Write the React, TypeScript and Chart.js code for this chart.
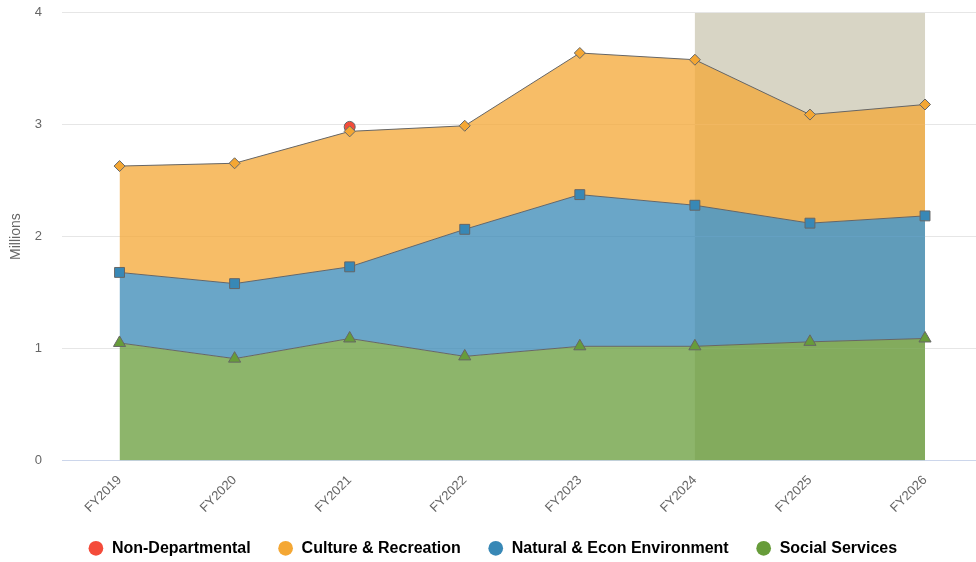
import React, { useEffect, useRef } from "react";
import { Chart, registerables } from "chart.js";

Chart.register(...registerables);

const categories = ["FY2019", "FY2020", "FY2021", "FY2022", "FY2023", "FY2024", "FY2025", "FY2026"];
const socialServices = [1.05, 0.91, 1.09, 0.93, 1.02, 1.02, 1.06, 1.09];
const naturalEcon = [0.63, 0.67, 0.64, 1.135, 1.355, 1.26, 1.06, 1.095];
const cultureRecreation = [0.95, 1.075, 1.21, 0.925, 1.265, 1.3, 0.97, 0.995];
const nonDepartmental: (number | null)[] = [null, null, 0.04, null, null, null, null, null];
const yTicks = [0, 1, 2, 3, 4];
const bandStart = "FY2024";
const bandEnd = "FY2026";

const FONT = '"Liberation Sans", Arial, Helvetica, sans-serif';

const toPoints = (arr: (number | null)[]) => arr.map((v, i) => ({ x: i, y: v }));

const bandPlugin = {
  id: "plotBand",
  beforeDraw(chart: any) {
    const { ctx, chartArea, scales } = chart;
    const xs = scales.x;
    const x0 = xs.getPixelForValue(categories.indexOf(bandStart));
    const x1 = xs.getPixelForValue(categories.indexOf(bandEnd));
    ctx.save();
    ctx.fillStyle = "#d8d5c5";
    ctx.fillRect(x0, chartArea.top, x1 - x0, chartArea.bottom - chartArea.top);
    ctx.restore();
    if (chart.legend) {
      chart.legend.left = 9;
    }
  },
};

export default function App() {
  const ref = useRef<HTMLCanvasElement | null>(null);

  useEffect(() => {
    document.body.style.margin = "0";
    document.body.style.overflow = "hidden";
    const canvas = ref.current;
    if (!canvas) return;
    Chart.defaults.font.family = FONT;

    const common = {
      borderColor: "#666666",
      borderWidth: 1,
      pointBorderColor: "#666666",
      pointBorderWidth: 1,
      tension: 0,
    };

    const chart = new Chart(canvas, {
      type: "line",
      data: {
        datasets: [
          {
            ...common,
            label: "Social Services",
            data: toPoints(socialServices),
            backgroundColor: "rgba(103,156,58,0.75)",
            pointBackgroundColor: "#679c3a",
            pointStyle: "triangle",
            pointRadius: 7,
            fill: "origin",
          },
          {
            ...common,
            label: "Natural & Econ Environment",
            data: toPoints(naturalEcon),
            backgroundColor: "rgba(56,136,182,0.75)",
            pointBackgroundColor: "#3888b6",
            pointStyle: "rect",
            pointRadius: 7,
            fill: "-1",
          },
          {
            ...common,
            label: "Culture & Recreation",
            data: toPoints(cultureRecreation),
            backgroundColor: "rgba(244,167,52,0.75)",
            pointBackgroundColor: "#f4a734",
            pointStyle: "rectRot",
            pointRadius: 5.5,
            fill: "-1",
          },
          {
            ...common,
            label: "Non-Departmental",
            data: toPoints(nonDepartmental),
            backgroundColor: "rgba(244,75,58,0.75)",
            pointBackgroundColor: "#f44b3a",
            pointStyle: "circle",
            pointRadius: 5.5,
            showLine: false,
            fill: false,
          },
        ],
      } as any,
      options: {
        animation: false,
        responsive: false,
        layout: { autoPadding: false, padding: { top: 12.7, left: 0, right: 0, bottom: -4.3 } },
        plugins: {
          tooltip: { enabled: false },
          legend: {
            position: "bottom",
            labels: {
              usePointStyle: true,
              boxWidth: 20.6,
              boxHeight: 10.4,
              padding: 27,
              color: "#333333",
              font: { size: 16, weight: "bold", family: FONT },
              generateLabels: (ch: any) =>
                ch.data.datasets
                  .map((ds: any, i: number) => ({
                    text: ds.label,
                    fillStyle: ds.pointBackgroundColor,
                    strokeStyle: ds.pointBackgroundColor,
                    lineWidth: 0,
                    pointStyle: "circle",
                    hidden: false,
                    datasetIndex: i,
                  }))
                  .reverse(),
            },
          },
        },
        scales: {
          x: {
            type: "linear",
            min: -0.5,
            max: 7.443,
            grid: { display: false, drawTicks: false },
            border: { display: true, color: "#ccd6eb", width: 1 },
            afterBuildTicks: (scale: any) => {
              scale.ticks = categories.map((_, i) => ({ value: i }));
            },
            afterFit: (scale: any) => {
              scale.height = 52.8;
              scale.paddingLeft = 0;
              scale.paddingRight = 0;
              scale.paddingTop = 0;
              scale.paddingBottom = 0;
            },
            ticks: {
              autoSkip: false,
              minRotation: 45,
              maxRotation: 45,
              padding: 12,
              labelOffset: 0,
              color: "#666666",
              font: { size: 13, family: FONT },
              callback: (v: any) => categories[Math.round(Number(v))] ?? "",
            },
          },
          y: {
            stacked: true,
            min: yTicks[0],
            max: yTicks[yTicks.length - 1],
            grid: { color: "#e6e6e6", drawTicks: false },
            border: { display: false },
            afterBuildTicks: (scale: any) => {
              scale.ticks = yTicks.map((v) => ({ value: v }));
            },
            afterFit: (scale: any) => {
              scale.width = 62;
              scale.paddingTop = 0;
              scale.paddingBottom = 0;
              scale.paddingLeft = 0;
              scale.paddingRight = 0;
            },
            title: {
              display: true,
              text: "Millions",
              color: "#666666",
              font: { size: 14, family: FONT },
              padding: { top: 8, bottom: 0 },
            },
            ticks: {
              padding: 20,
              color: "#666666",
              font: { size: 13, family: FONT },
            },
          },
        },
      } as any,
      plugins: [bandPlugin],
    });
    return () => chart.destroy();
  }, []);

  return (
    <div style={{ width: 976, height: 562, background: "#ffffff" }}>
      <canvas ref={ref} width={976} height={562} style={{ display: "block" }} />
    </div>
  );
}
